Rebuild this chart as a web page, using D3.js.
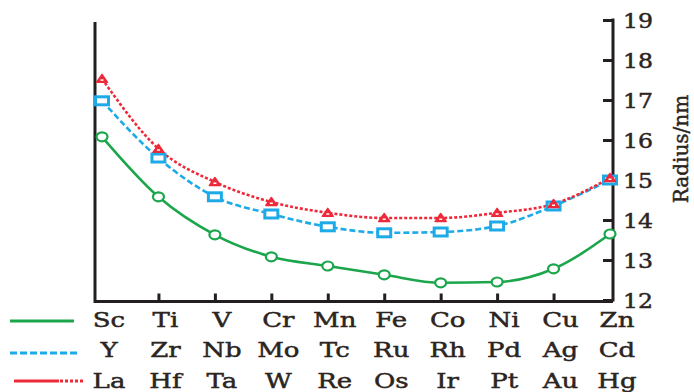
<!DOCTYPE html>
<html>
<head>
<meta charset="utf-8">
<script src="https://cdn.jsdelivr.net/npm/d3@7/dist/d3.min.js"></script>
<style>
	html, body { margin: 0; padding: 0; background: #fff; }
	svg { display: block; }
	text { font-family: 'DejaVu Serif', serif; fill: #2b2421; stroke: #2b2421; stroke-width: 0.45px; }
</style>
</head>
<body>
<div id="chart"></div>
<script>
// Element rows, one per transition series
const row3d = ['Sc', 'Ti', 'V', 'Cr', 'Mn', 'Fe', 'Co', 'Ni', 'Cu', 'Zn'];
const row4d = ['Y', 'Zr', 'Nb', 'Mo', 'Tc', 'Ru', 'Rh', 'Pd', 'Ag', 'Cd'];
const row5d = ['La', 'Hf', 'Ta', 'W', 'Re', 'Os', 'Ir', 'Pt', 'Au', 'Hg'];

// Radius values
const radius3d = [16.08, 14.58, 13.63, 13.08, 12.85, 12.63, 12.43, 12.45, 12.78, 13.65];
const radius4d = [16.98, 15.55, 14.58, 14.15, 13.83, 13.68, 13.7, 13.85, 14.35, 15.0];
const radius5d = [17.53, 15.78, 14.95, 14.45, 14.18, 14.05, 14.05, 14.18, 14.4, 15.05];

const yTicks = [12, 13, 14, 15, 16, 17, 18, 19];
const yTitle = 'Radius/nm';

const INK = '#231f20';
const GREEN = '#1ba64c';
const BLUE = '#1eaae7';
const RED = '#ee2a3a';

const width = 694;
const height = 392;
const frame = { left: 95, right: 613, top: 20, bottom: 301.5 };

const svg = d3
	.select('#chart')
	.append('svg')
	.attr('width', width)
	.attr('height', height);

svg.append('rect').attr('width', width).attr('height', height).attr('fill', '#fff');

const xScale = d3.scaleLinear().domain([0, row3d.length - 1]).range([102, 610]);
const yScale = d3.scaleLinear().domain([12, 19]).range([300, 20]);

// Frame: left and bottom lines
svg
	.append('path')
	.attr('d', `M${frame.left},${frame.top + 2}V${frame.bottom}H${frame.right}`)
	.attr('fill', 'none')
	.attr('stroke', INK)
	.attr('stroke-width', 3);

// Bottom ticks point up into the plot
const xAxis = d3
	.axisBottom(xScale)
	.tickValues(d3.range(1, row3d.length - 1))
	.tickSizeInner(-8)
	.tickSizeOuter(0)
	.tickFormat('');
const gx = svg.append('g').attr('transform', `translate(0,${frame.bottom})`).call(xAxis);
gx.select('.domain').remove();
gx.selectAll('.tick line').attr('stroke', INK).attr('stroke-width', 3);

// Right axis with inward ticks
const yAxis = d3
	.axisRight(yScale)
	.tickValues(yTicks)
	.tickFormat(d3.format('d'))
	.tickSizeInner(-10)
	.tickSizeOuter(0);
const gy = svg.append('g').attr('transform', `translate(${frame.right},0)`).call(yAxis);
gy.select('.domain').attr('stroke', INK).attr('stroke-width', 3).attr('d', `M0,${frame.bottom}V${frame.top - 1.5}`);
gy.selectAll('.tick line').attr('stroke', INK).attr('stroke-width', 3);
gy.selectAll('.tick text')
	.attr('x', 0)
	.attr('dy', '0.36em')
	.attr('transform', 'translate(10,0) scale(1.18,1)')
	.style('font-family', "'DejaVu Serif', serif")
	.style('font-size', '20px')
	.attr('fill', '#2b2421');

svg
	.append('text')
	.attr('transform', `translate(688,149) rotate(-90)`)
	.attr('text-anchor', 'middle')
	.style('font-size', '20px')
	.text(yTitle);

// Series
const series = [
	{ values: radius3d, color: GREEN, dash: null, marker: 'circle' },
	{ values: radius4d, color: BLUE, dash: '6 3', marker: 'square' },
	{ values: radius5d, color: RED, dash: '3 2', marker: 'triangle' }
];

const line = d3
	.line()
	.x((d, i) => xScale(i))
	.y((d) => yScale(d))
	.curve(d3.curveMonotoneX);

series.forEach((s) => {
	svg
		.append('path')
		.datum(s.values)
		.attr('fill', 'none')
		.attr('stroke', s.color)
		.attr('stroke-width', 2.6)
		.attr('stroke-dasharray', s.dash)
		.attr('d', line);
});

series.forEach((s) => {
	const g = svg
		.append('g')
		.selectAll('g')
		.data(s.values)
		.enter()
		.append('g')
		.attr('transform', (d, i) => `translate(${xScale(i)},${yScale(d)})`);
	if (s.marker === 'circle') {
		g.append('ellipse')
			.attr('rx', 5.5)
			.attr('ry', 4.5)
			.attr('fill', '#fff')
			.attr('stroke', s.color)
			.attr('stroke-width', 2.2);
	} else if (s.marker === 'square') {
		g.append('rect')
			.attr('x', -6.5)
			.attr('y', -4)
			.attr('width', 13)
			.attr('height', 8)
			.attr('fill', '#fff')
			.attr('stroke', s.color)
			.attr('stroke-width', 3);
	} else {
		g.append('path')
			.attr('d', 'M0,-4.5L5.5,3.5L-5.5,3.5Z')
			.attr('fill', s.color)
			.attr('stroke', s.color)
			.attr('stroke-width', 1.5)
			.attr('stroke-linejoin', 'round');
		g.append('rect')
			.attr('x', -1.5)
			.attr('y', 0.5)
			.attr('width', 3)
			.attr('height', 1.5)
			.attr('fill', '#fff');
	}
});

// Element label rows under the axis, with legend samples at left
const rows = [
	{ names: row3d, baseline: 327, legendY: 321 },
	{ names: row4d, baseline: 357, legendY: 353 },
	{ names: row5d, baseline: 388, legendY: 381 }
];

rows.forEach((r) => {
	svg
		.append('g')
		.selectAll('text')
		.data(r.names)
		.enter()
		.append('text')
		.attr('transform', (d, i) => `translate(${xScale(i) + 7},${r.baseline}) scale(1.3,1)`)
		.attr('text-anchor', 'middle')
		.style('font-size', '20px')
		.text((d) => d);
});

// Legend samples
svg.append('line')
	.attr('x1', 10).attr('x2', 74)
	.attr('y1', rows[0].legendY).attr('y2', rows[0].legendY)
	.attr('stroke', GREEN).attr('stroke-width', 3);
svg.append('line')
	.attr('x1', 10).attr('x2', 79)
	.attr('y1', rows[1].legendY).attr('y2', rows[1].legendY)
	.attr('stroke', BLUE).attr('stroke-width', 3)
	.attr('stroke-dasharray', '7 3');
svg.append('line')
	.attr('x1', 14).attr('x2', 59)
	.attr('y1', rows[2].legendY).attr('y2', rows[2].legendY)
	.attr('stroke', RED).attr('stroke-width', 3);
svg.append('line')
	.attr('x1', 60).attr('x2', 84)
	.attr('y1', rows[2].legendY).attr('y2', rows[2].legendY)
	.attr('stroke', RED).attr('stroke-width', 3)
	.attr('stroke-dasharray', '3 2');
</script>
</body>
</html>
